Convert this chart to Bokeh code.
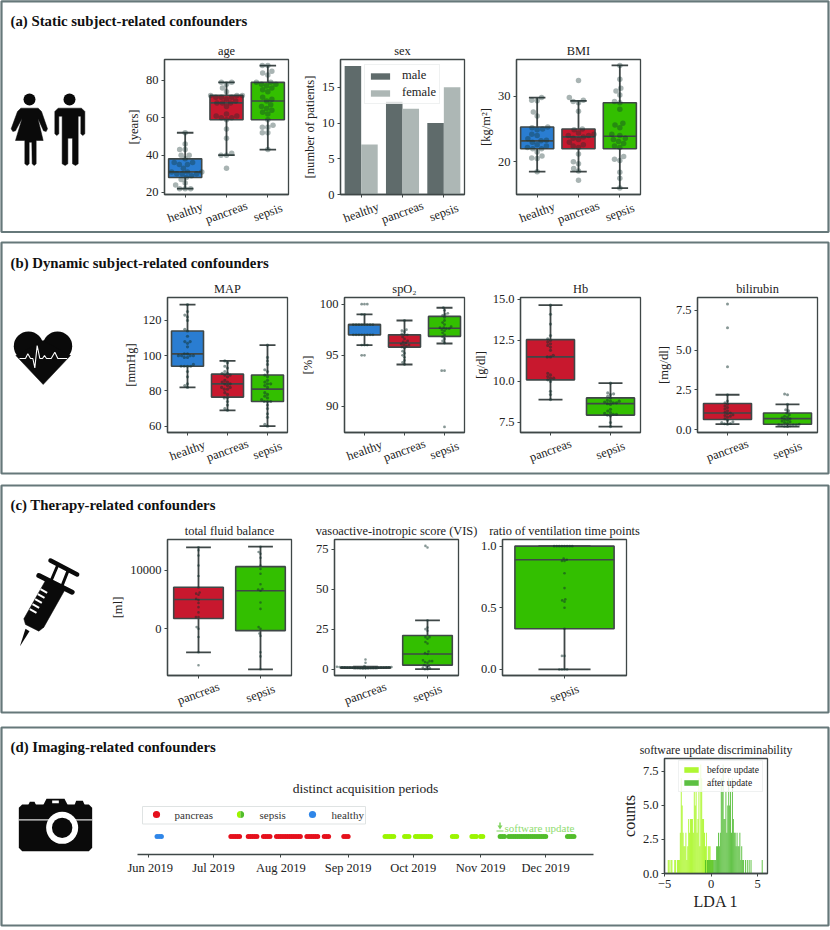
import datetime as dt
from bokeh.embed import file_html
from bokeh.resources import INLINE
from bokeh.plotting import figure
from bokeh.models import (Range1d, FixedTicker, Legend, LegendItem, Column, NumeralTickFormatter,
                          MonthsTicker, DatetimeTickFormatter)
from bokeh.core.properties import value

FONT = "Liberation Serif"
cat_colors = {"healthy": "#2a7dd1", "pancreas": "#c8182e", "sepsis": "#33bf00"}

# ---------- data: [whisker low, q1, median, q3, whisker high] ----------
age_stats = [[22, 28, 31, 38, 52], [40, 59, 68, 72, 79], [43, 59, 69, 79, 88]]
age_healthy = [22, 22, 22, 24, 25, 27, 28, 29, 30, 30, 30, 31, 31, 31, 33, 35, 35, 36, 36, 38, 40, 40, 43, 43, 46, 52]
age_pancreas = [33, 40, 40, 41, 49, 54, 59, 60, 60, 61, 61, 62, 66, 68, 68, 68, 69, 70, 71, 71, 71, 72, 72, 72, 74, 76, 78, 79, 79]
age_sepsis = [43, 52, 52, 55, 55, 56, 59, 62, 63, 64, 65, 66, 67, 69, 70, 71, 74, 75, 76, 77, 78, 78, 79, 79, 83, 84, 85, 88, 88]

sex_male = [18, 13, 10]
sex_female = [7, 12, 15]

bmi_stats = [[18.5, 22, 23.2, 25.3, 29.8], [18.5, 22, 23.8, 25, 29.3], [16, 22, 23.9, 29, 34.7]]
bmi_healthy = [18.5, 20.5, 20.6, 20.9, 21.5, 22, 22, 22.2, 22.4, 22.6, 23, 23.2, 23.3, 23.5, 24, 24.2, 24.9, 25, 25.2, 25.3, 27, 27.6, 29.3, 29.4, 29.8]
bmi_pancreas = [17.2, 18.6, 19, 19.7, 20, 21.2, 22.2, 22.4, 22.6, 23, 23.4, 23.6, 23.8, 24, 24, 24.2, 24.4, 24.9, 25, 27.7, 29, 29.2, 29.4, 29.8, 32.4]
bmi_sepsis = [16, 17.5, 18.4, 20.2, 20.4, 20.8, 22.2, 22.4, 22.8, 23.1, 23.4, 23.6, 24, 24.2, 25.2, 25.6, 25.9, 28, 29, 29.2, 30.2, 30.8, 31.2, 32.6, 34.7]

map_stats = [[82, 94, 101, 114, 129], [69, 76.5, 84, 89.5, 97], [60, 74, 81, 89, 106]]
map_healthy = [82, 83, 84, 88, 91, 94, 94, 94, 94, 95, 99, 99, 100, 100, 100, 100, 101, 101, 105, 107, 108, 108, 111, 114, 115, 120, 122, 123, 125, 129]
map_pancreas = [69, 70, 72, 74, 76, 76, 78, 79, 81, 81, 82, 82, 83, 84, 84, 85, 85, 86, 88, 89, 89, 90, 90, 91, 93, 94, 96, 97]
map_sepsis = [60, 61, 65, 67, 70, 72, 74, 74, 74, 75, 76, 77, 78, 79, 82, 83, 84, 84, 85, 86, 88, 89, 91, 92, 95, 97, 99, 106]

spo2_stats = [[96, 97, 98, 98, 99], [94.1, 95.8, 96.2, 97, 98.4], [96.15, 96.85, 97.65, 98.8, 99.65]]
spo2_healthy = [95, 95, 96, 96, 96, 97, 97, 97, 97, 97, 97, 97, 97, 98, 98, 98, 98, 98, 98, 98, 98, 99, 99, 100, 100, 100]
spo2_pancreas = [94.1, 94.3, 94.5, 94.8, 95, 95.2, 95.4, 95.7, 95.8, 95.9, 96, 96, 96.1, 96.2, 96.3, 96.4, 96.6, 96.8, 97, 97, 97.1, 97.3, 97.4, 97.5, 98.4]
spo2_sepsis = [88, 93.5, 93.5, 96.2, 96.4, 96.6, 96.8, 97, 97.2, 97.4, 97.5, 97.6, 97.6, 97.7, 97.7, 97.8, 98, 98.2, 98.4, 98.7, 98.9, 99, 99.1, 99.4, 99.65]

hb_stats = [[8.9, 10.1, 11.5, 12.55, 14.65], [7.25, 7.95, 8.65, 9, 9.9]]
hb_pancreas = [8.9, 9.2, 9.4, 10, 10.1, 10.2, 10.2, 10.3, 10.4, 10.5, 11.5, 11.5, 11.6, 11.9, 12.1, 12.2, 12.3, 12.4, 12.5, 12.6, 12.8, 13.5, 14.1, 14.65]
hb_sepsis = [7.25, 7.5, 7.9, 7.95, 8, 8, 8.05, 8.1, 8.2, 8.3, 8.6, 8.65, 8.7, 8.7, 8.75, 8.8, 8.8, 8.85, 9, 9.1, 9.2, 9.25, 9.3, 9.9]

bili_stats = [[0.35, 0.65, 1.05, 1.65, 2.2], [0.2, 0.35, 0.7, 1.05, 1.6]]
bili_pancreas = [.35, .38, .4, .45, .5, .6, .7, .8, .85, .9, .95, 1, 1.05, 1.1, 1.2, 1.3, 1.4, 1.5, 1.6, 1.7, 1.8, 2.2, 3.95, 6.4, 7.9]
bili_sepsis = [.2, .22, .25, .27, .3, .3, .32, .35, .4, .45, .5, .55, .6, .65, .7, .75, .8, .85, .95, 1.05, 1.2, 1.25, 1.6, 2.2, 2.25]

fluid_stats = [[-4000, 1750, 5000, 7100, 13900], [-6900, -300, 6500, 10600, 14000]]
fluid_pancreas = [13900, 13400, 12500, 10800, 9000, 7050, 6200, 6000, 5800, 5100, 4900, 4400, 3700, 2800, 2000, 2000, 300, 0, -1400, -4000, -6200]
fluid_sepsis = [14000, 13100, 12800, 12100, 10800, 10200, 9400, 7600, 6800, 6700, 6500, 4500, 3400, 300, 0, -800, -1200, -4000, -4700, -6900]

vis_stats = [[0.5, 0.6, 1, 1.3, 1.5], [0, 2.5, 9.5, 21, 30.5]]
vis_pancreas = [.5, .5, .6, .6, .7, .7, .8, .8, .8, .9, .9, 1, 1, 1, 1, 1.1, 1.1, 1.2, 1.2, 1.3, 1.3, 1.5, 2, 4, 6]
vis_sepsis = [0, 0, .5, 1, 1.5, 2, 2.5, 4, 4.5, 5, 5, 5.5, 9.5, 10, 11, 16, 17, 19, 20, 20, 24, 25, 26, 30.5, 76, 77]

vent_stats = [[0, 0.33, 0.89, 1, 1]]
vent_sepsis = [1, 1, 1, 1, 1, 1, 1, 1, .9, .89, .88, .88, .78, .66, .57, .56, .55, .5, .33, .11, .11, 0, 0, 0, 0]

acq_healthy = ["06-05", "06-06", "06-07"]
acq_pancreas = ["07-09", "07-10", "07-11", "07-12", "07-13", "07-17", "07-18", "07-19", "07-20", "07-21",
                "07-24", "07-25", "07-26", "07-27", "07-30", "07-31", "08-01", "08-02", "08-03", "08-04",
                "08-05", "08-06", "08-07", "08-08", "08-09", "08-10", "08-13", "08-14", "08-15", "08-16",
                "08-17", "08-18", "08-21", "08-22", "08-23", "08-30", "08-31", "09-01"]
acq_before = ["09-18", "09-19", "09-20", "09-21", "09-22", "09-27", "09-28", "09-29", "10-02", "10-03",
              "10-04", "10-05", "10-06", "10-07", "10-08", "10-09", "10-19", "10-20", "10-21", "10-28",
              "10-29", "10-30", "11-01", "11-02"]
acq_after = ["11-10", "11-11", "11-12", "11-14", "11-15", "11-16", "11-17", "11-18", "11-19", "11-20",
             "11-21", "11-22", "11-23", "11-24", "11-25", "11-26", "11-27", "11-28", "11-29", "11-30",
             "12-01", "12-11", "12-12", "12-13", "12-14"]

lda_before_x = [-4.6, -4.5, -4.3, -4.2, -3.9, -3.8, -3.6, -3.5, -3.4, -3.3, -3.2, -3.1, -3.0, -2.9, -2.8, -2.7, -2.6, -2.5,
                -2.4, -2.3, -2.2, -2.1, -2.0, -1.9, -1.8, -1.7, -1.6, -1.5, -1.4, -1.3, -1.2, -1.1, -1.0, -0.9, -0.8,
                -0.7, -0.6, -0.5, -0.4, -0.3, -0.2, -0.1, 0.0, 0.1, 0.2]
lda_before_n = [1, 1, 1, 1, 1, 1, 1, 1, 1, 3, 7, 5, 3, 2, 2, 3, 1, 2, 4, 3, 4, 4, 4, 3, 6, 5, 6, 3, 4, 7, 2, 8, 7, 4, 4,
                3, 2, 3, 1, 2, 2, 2, 1, 1, 1]
lda_after_x = [-0.6, -0.4, -0.3, -0.2, -0.1, 0.0, 0.1, 0.2, 0.3, 0.4, 0.5, 0.6, 0.7, 0.8, 0.9, 1.0, 1.1, 1.2, 1.3, 1.4, 1.5,
               1.6, 1.7, 1.8, 1.9, 2.0, 2.1, 2.2, 2.3, 2.4, 2.5, 2.6, 2.7, 2.8, 2.9, 3.0, 3.1, 3.2, 3.3, 3.4, 3.5, 3.7,
               3.9, 4.1, 4.3, 5.5]
lda_after_n = [1, 1, 1, 1, 1, 1, 1, 1, 1, 1, 1, 2, 2, 3, 2, 3, 7, 6, 8, 4, 4, 6, 3, 5, 7, 5, 6, 3, 7, 4, 3, 3, 2, 3, 2, 2, 3,
               1, 2, 1, 1, 1, 1, 1, 1, 1]

panel_titles = ["(a) Static subject-related confounders", "(b) Dynamic subject-related confounders",
                "(c) Therapy-related confounders", "(d) Imaging-related confounders"]

# ---------- helpers ----------
EDGE = "#3f4747"
def place(left, top):
    return {"position": "absolute", "left": f"{left}px", "top": f"{top}px"}

def make_fig(x0, y0, x1, y1, xr, yr, title="", ml=70, mt=26, mb=46, mr=70, **kw):
    p = figure(frame_width=x1 - x0, frame_height=y1 - y0, x_range=xr, y_range=yr, toolbar_location=None,
               output_backend="svg", min_border_left=ml, min_border_top=mt, min_border_bottom=mb,
               min_border_right=mr, background_fill_alpha=0, border_fill_alpha=0, title=title,
               frame_align=False, styles=place(x0 - ml, y0 - mt), **kw)
    p.title.text_font = FONT
    p.title.text_font_size = "12.4px"
    p.title.text_font_style = "normal"
    p.title.align = "center"
    p.title.standoff = 4
    p.title.text_color = "#222222"
    p.xgrid.visible = False
    p.ygrid.visible = False
    p.outline_line_color = EDGE
    p.outline_line_width = 1.3
    for ax in list(p.xaxis) + list(p.yaxis):
        ax.major_label_text_font = FONT
        ax.major_label_text_font_size = "12.5px"
        ax.major_label_text_color = "#222222"
        ax.axis_label_text_font = FONT
        ax.axis_label_text_font_size = "12.6px"
        ax.axis_label_text_font_style = "normal"
        ax.axis_label_text_color = "#222222"
        ax.minor_tick_line_color = None
        ax.major_tick_line_color = EDGE
        ax.major_tick_in = 0
        ax.major_tick_out = 3
        ax.axis_line_color = EDGE
        ax.axis_line_width = 1.3
        ax.major_label_standoff = 3
        ax.axis_label_standoff = 2
    return p

def cat_axis(p, cats, ymin):
    n = len(cats)
    p.xaxis[0].ticker = FixedTicker(ticks=list(range(n)))
    p.xaxis[0].major_label_overrides = {i: "" for i in range(n)}
    p.text(list(range(n)), [ymin] * n, text=cats, y_offset=18, angle=0.35, text_align="center",
           text_baseline="middle", text_font=value(FONT), text_font_size="12.5px",
           text_color="#222222", level="overlay")

def swarm(vals, pxy, pxx, d):
    placed, xs, ys = [], [], []
    for v in sorted(vals):
        yp = v * pxy
        near = [(px, py) for px, py in placed if abs(py - yp) < d]
        cands = [0.0]
        for px, py in near:
            s = (d * d - (py - yp) ** 2) ** 0.5 + 1e-6
            cands += [px - s, px + s]
        cands.sort(key=abs)
        for c in cands:
            if all((c - px) ** 2 + (yp - py) ** 2 >= d * d - 1e-9 for px, py in near):
                placed.append((c, yp))
                xs.append(c / pxx)
                ys.append(v)
                break
    return xs, ys

def box_panel(x0, y0, x1, y1, title, ylabel, cats, stats, dots, ylim, yticks, size, alpha, fmt=None):
    n = len(cats)
    xr, yr = Range1d(-0.5, n - 0.5), Range1d(*ylim)
    p = make_fig(x0, y0, x1, y1, xr, yr, title)
    cat_axis(p, cats, ylim[0])
    p.yaxis[0].ticker = FixedTicker(ticks=yticks)
    if fmt:
        p.yaxis[0].formatter = NumeralTickFormatter(format=fmt)
    if ylabel:
        p.yaxis[0].axis_label = ylabel
    xs = list(range(n))
    lo, q1, med, q3, hi = zip(*stats)
    cols = [cat_colors[c] for c in cats]
    p.segment(xs, lo, xs, hi, line_color=EDGE, line_width=1.8)
    p.vbar(xs, 0.8, q1, q3, fill_color=cols, line_color=EDGE, line_width=1.6)
    hw = 0.2 if n > 1 else 0.21
    l = [i - hw for i in xs]
    r = [i + hw for i in xs]
    for lev in (lo, hi):
        p.segment(l, lev, r, lev, line_color=EDGE, line_width=1.8)
    p.segment([i - 0.4 for i in xs], med, [i + 0.4 for i in xs], med, line_color=EDGE, line_width=1.6)
    pxx = (x1 - x0) / n
    pxy = (y1 - y0) / (ylim[1] - ylim[0])
    for i, vals in enumerate(dots):
        ox, oy = swarm(vals, pxy, pxx, size)
        p.scatter([i + o for o in ox], oy, size=size, fill_color="#10302c", fill_alpha=alpha, line_color=None)
    return p

# ---------- background: panel frames, titles, icons ----------
bg = figure(frame_width=820, frame_height=920, x_range=Range1d(5, 825), y_range=Range1d(925, 5), toolbar_location=None,
            output_backend="svg", min_border_left=5, min_border_right=5, min_border_top=5, min_border_bottom=5,
            outline_line_color=None, frame_align=False, styles=place(0, 0), x_axis_location=None, y_axis_location=None)
bg.grid.visible = False
FRAME = "#66787a"
frames = [(1, 828, 0.8, 231.5), (1, 828, 242, 473), (1, 828, 485, 712), (1, 828, 727, 925)]
bg.quad(left=[f[0] for f in frames], right=[f[1] for f in frames], top=[f[2] for f in frames],
        bottom=[f[3] for f in frames], fill_color=None, line_color=FRAME, line_width=2.2, level="overlay")
bg.text([10] * 4, [20, 262, 504, 746], text=panel_titles, text_font=value(FONT), text_font_style="bold",
        text_font_size="14.8px", text_baseline="middle", text_color="#111111")
INK = "#0a0a0a"
def tr(pts, ox, oy):
    return [ox + a / 3 for a, b in pts], [oy + b / 3 for a, b in pts]
# people
woman = [(46, 68), (98, 68), (108, 78), (126, 130), (122, 138), (114, 136), (97, 98), (113, 165), (92, 165), (92, 235),
         (86, 240), (80, 235), (79, 170), (71, 170), (71, 235), (65, 240), (58, 235), (58, 165), (30, 165), (50, 98),
         (30, 136), (22, 138), (17, 130), (36, 78)]
man = [(158, 68), (228, 68), (238, 78), (238, 145), (232, 150), (226, 145), (226, 92), (218, 92), (218, 235), (210, 240),
       (201, 235), (201, 158), (187, 158), (187, 235), (179, 240), (170, 235), (170, 92), (160, 92), (160, 145),
       (154, 150), (148, 145), (148, 78)]
for shp in (woman, man):
    xs, ys = tr(shp, 5, 85)
    bg.patch(xs, ys, fill_color=INK, line_color=INK, line_width=0.5)
bg.circle([29, 69], [99, 99], radius=6, fill_color=INK, line_color=None)
# heart
bg.circle([28, 57], [240 + 317 / 3] * 2, radius=14.7, fill_color=INK, line_color=None)
xs, ys = tr([(46, 345), (128, 432), (210, 345), (128, 300)], 0, 240)
bg.patch(xs, ys, fill_color=INK, line_color=INK, line_width=0.5)
xs, ys = tr([(57, 354), (75, 354), (82, 340), (90, 354), (97, 354), (103, 382), (110, 315), (118, 354), (126, 354),
             (132, 345), (138, 354), (152, 354), (163, 335), (172, 354), (200, 354)], 0, 240)
bg.line(xs, ys, line_color="white", line_width=1.1)
# syringe
xs, ys = tr([(105, 90), (162, 120), (100, 230), (85, 242), (45, 222), (40, 205)], 10, 550)
bg.patch(xs, ys, fill_color=INK, line_color=INK, line_width=0.5)
xs, ys = tr([(45, 235), (57, 242), (28, 288)], 10, 550)
bg.patch(xs, ys, fill_color=INK, line_color=None)
for a, b, w in [((120, 30), (200, 72), 4.5), ((85, 75), (185, 125), 5), ((140, 48), (122, 90), 3), ((172, 62), (155, 105), 3)]:
    xs, ys = tr([a, b], 10, 550)
    bg.line(xs, ys, line_color=INK, line_width=w, line_cap="round")
for a, b in [((90, 116), (110, 127)), ((82, 131), (102, 142)), ((74, 146), (94, 157)), ((66, 161), (86, 172)), ((58, 176), (78, 187))]:
    xs, ys = tr([a, b], 10, 550)
    bg.line(xs, ys, line_color="white", line_width=2)
# camera
xs, ys = tr([(65, 222), (265, 222), (275, 232), (275, 352), (265, 362), (65, 362), (55, 352), (55, 232)], 0, 730)
bg.patch(xs, ys, fill_color=INK, line_color=None)
xs, ys = tr([(128, 224), (138, 205), (192, 205), (202, 224)], 0, 730)
bg.patch(xs, ys, fill_color=INK, line_color=None)
xs, ys = tr([(83, 224), (88, 214), (102, 214), (107, 224)], 0, 730)
bg.patch(xs, ys, fill_color=INK, line_color=None)
xs, ys = tr([(222, 224), (227, 211), (247, 211), (253, 224)], 0, 730)
bg.patch(xs, ys, fill_color=INK, line_color=None)
xs, ys = tr([(155, 210), (175, 210), (175, 218), (155, 218)], 0, 730)
bg.patch(xs, ys, fill_color="white", line_color=None)
xs, ys = tr([(55, 268), (275, 268)], 0, 730)
bg.line(xs, ys, line_color="#dddddd", line_width=1.2)
bg.circle([185 / 3], [730 + 292 / 3], radius=16, fill_color="white", line_color=None)
bg.circle([185 / 3], [730 + 292 / 3], radius=10.2, fill_color=INK, line_color=None)
# timeline legend
RED, LIME, DARK, BLUE = "#e5101c", "#9bf500", "#52bd2b", "#2f86e8"
bg.quad(left=[142], right=[365], top=[806], bottom=[823.5], fill_color="white", line_color="#dfe3e3", line_width=1)
bg.circle([156, 312], [814, 814], radius=3.6, fill_color=[RED, BLUE], line_color=None)
bg.wedge([240], [814], radius=3.6, start_angle=1.5708, end_angle=4.7124, fill_color=LIME, line_color=None)
bg.wedge([240], [814], radius=3.6, start_angle=4.7124, end_angle=7.854, fill_color=DARK, line_color=None)
bg.text([174, 259, 331], [814.5] * 3, text=["pancreas", "sepsis", "healthy"], text_font=value(FONT),
        text_font_size="11px", text_baseline="middle", text_color="#333333")
bg.text([504], [827], text=["software update"], text_font=value(FONT), text_font_size="11px",
        text_baseline="middle", text_color="#8fdc6f")
bg.patch([497, 502, 499.5], [825, 825, 829], fill_color="#7fd35f", line_color=None)
bg.line([499.5, 499.5], [822, 826], line_color="#7fd35f", line_width=1.5)
bg.line([496, 503], [830.5, 830.5], line_color="#7fd35f", line_width=1.2)

figs = [bg]
C3 = ["healthy", "pancreas", "sepsis"]
C2 = ["pancreas", "sepsis"]

# ---------- (a) ----------
figs.append(box_panel(164, 59, 288, 194, "age", "[years]", C3, age_stats, [age_healthy, age_pancreas, age_sepsis],
                      (18.9, 91.25), [20, 40, 60, 80], 5.5, 0.36))
sx = make_fig(340, 59, 464, 194, Range1d(-0.5, 2.5), Range1d(0, 18.9), "sex")
cat_axis(sx, C3, 0)
sx.yaxis[0].ticker = FixedTicker(ticks=[0, 5, 10, 15])
sx.yaxis[0].axis_label = "[number of patients]"
r1 = sx.vbar([i - 0.2 for i in range(3)], 0.4, 0, sex_male, fill_color="#5f6b6b", line_color=None)
r2 = sx.vbar([i + 0.2 for i in range(3)], 0.4, 0, sex_female, fill_color="#adb7b5", line_color=None)
lg = Legend(items=[LegendItem(label="male", renderers=[r1]), LegendItem(label="female", renderers=[r2])],
            location=(24, 90), label_text_font=FONT, label_text_font_size="12.5px", glyph_width=24, glyph_height=8,
            label_standoff=10, padding=3, spacing=2, margin=0, background_fill_alpha=0.8,
            border_line_color="#dfe3e3", label_text_color="#222222", label_height=14)
sx.add_layout(lg)
figs.append(sx)
figs.append(box_panel(516, 59, 640, 194, "BMI", "[kg/m²]", C3, bmi_stats, [bmi_healthy, bmi_pancreas, bmi_sepsis],
                      (15.02, 35.6), [20, 30], 5.5, 0.36))

# ---------- (b) ----------
figs.append(box_panel(167, 297, 287, 432, "MAP", "[mmHg]", C3, map_stats, [map_healthy, map_pancreas, map_sepsis],
                      (56.4, 133), [60, 80, 100, 120], 3.2, 0.5))
figs.append(box_panel(344, 297, 464, 432, "spO₂", "[%]", C3, spo2_stats, [spo2_healthy, spo2_pancreas, spo2_sepsis],
                      (87.45, 100.65), [90, 95, 100], 2.8, 0.5))
figs.append(box_panel(520, 297, 640, 432, "Hb", "[g/dl]", C2, hb_stats, [hb_pancreas, hb_sepsis],
                      (6.89, 15.12), [7.5, 10, 12.5, 15], 3.2, 0.5, fmt="0.0"))
figs.append(box_panel(697, 297, 817, 432, "bilirubin", "[mg/dl]", C2, bili_stats, [bili_pancreas, bili_sepsis],
                      (-0.17, 8.3), [0, 2.5, 5, 7.5], 3, 0.5, fmt="0.0"))

# ---------- (c) ----------
figs.append(box_panel(167, 539, 291, 675, "total fluid balance", "[ml]", C2, fluid_stats, [fluid_pancreas, fluid_sepsis],
                      (-7955, 15230), [0, 10000], 2.6, 0.5))
figs.append(box_panel(334, 539, 458, 675, "vasoactive-inotropic score (VIS)", "", C2, vis_stats, [vis_pancreas, vis_sepsis],
                      (-3.95, 81), [0, 25, 50, 75], 2.6, 0.5))
figs.append(box_panel(502, 539, 626, 675, "ratio of ventilation time points", "", ["sepsis"], vent_stats, [vent_sepsis],
                      (-0.049, 1.054), [0, 0.5, 1], 2.6, 0.5, fmt="0.0"))

# ---------- (d) timeline ----------
def to_dt(days):
    return [dt.datetime.strptime("2019-" + d, "%Y-%m-%d") for d in days]
tl = make_fig(137, 796, 593, 854, Range1d(dt.datetime(2019, 5, 27), dt.datetime(2019, 12, 23)), Range1d(0, 1),
              "distinct acquisition periods", x_axis_type="datetime", y_axis_location=None, ml=10, mt=20, mb=30, mr=20)
tl.title.text_font_size = "13.5px"
tl.title.standoff = 2
tl.title.offset = -9
tl.outline_line_color = None
tl.xaxis[0].ticker = MonthsTicker(months=list(range(12)))
tl.xaxis[0].formatter = DatetimeTickFormatter(months="%b %Y", days="%b %Y")
tl.xaxis[0].axis_line_width = 1.6
tl.xaxis[0].major_label_standoff = 3
for days, col in [(acq_healthy, BLUE), (acq_pancreas, RED), (acq_before, LIME), (acq_after, DARK)]:
    tl.scatter(to_dt(days), [0.31] * len(days), size=5, fill_color=col, line_color=None)
figs.append(tl)

# ---------- (d) histogram ----------
h = make_fig(664, 758, 767, 873, Range1d(-5, 6.07), Range1d(0, 8.45), "software update discriminability",
             ml=50, mt=22, mb=46, mr=60)
h.title.text_font_size = "11.8px"
h.xaxis[0].ticker = FixedTicker(ticks=[-5, 0, 5])
h.xaxis[0].major_label_overrides = {-5: "−5", 0: "0", 5: "5"}
h.yaxis[0].ticker = FixedTicker(ticks=[0, 2.5, 5, 7.5])
h.yaxis[0].formatter = NumeralTickFormatter(format="0.0")
h.xaxis[0].axis_label = "LDA 1"
h.yaxis[0].axis_label = "counts"
h.xaxis[0].axis_label_text_font_size = "16px"
h.yaxis[0].axis_label_text_font_size = "16px"
h.xaxis[0].axis_label_standoff = 2
b1 = h.vbar(lda_before_x, 0.1, 0, lda_before_n, fill_color="#9bf500", fill_alpha=0.8, line_color=None)
b2 = h.vbar(lda_after_x, 0.1, 0, lda_after_n, fill_color="#3fb51f", fill_alpha=0.85, line_color=None)
lg2 = Legend(items=[LegendItem(label="before update", renderers=[b1]), LegendItem(label="after update", renderers=[b2])],
             location=(14, 81), label_text_font=FONT, label_text_font_size="9.5px", glyph_width=18, glyph_height=7,
             label_standoff=7, padding=3, spacing=2, margin=0, background_fill_alpha=0.8, border_line_color="#dfe3e3",
             label_text_color="#222222", label_height=11)
h.add_layout(lg2)
figs.append(h)

root = Column(children=figs, width=830, height=930, margin=(0, 0, 0, 0))
open("out.html", "w").write(file_html(root, INLINE))
